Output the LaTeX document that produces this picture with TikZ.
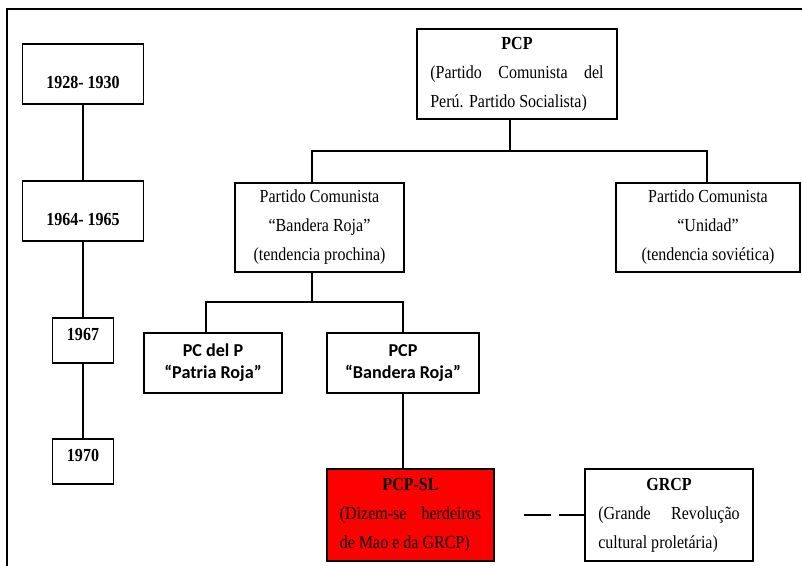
\documentclass[tikz,border=0pt]{standalone}
\usepackage{fontspec}
\setmainfont{Liberation Serif}[FakeStretch=0.87]
\newfontfamily\calibrifont{Carlito}

\newcommand*{\jline}[2]{\makebox[#1][s]{#2}}
\newcommand*{\lline}[2]{\makebox[#1][l]{#2}}

\begin{document}
\begin{tikzpicture}
[
	x=0.75pt,y=-0.75pt,
	every node/.style={inner sep=0pt,font=\fontsize{13.8}{21.75}\selectfont},
	box/.style={draw,line width=1pt,align=center},
	yearbig/.style={box,font=\fontsize{13.8}{14}\selectfont\bfseries,minimum width=90.75pt,minimum height=45pt,text height=21.4pt,text depth=0pt},
	yearsmall/.style={box,font=\fontsize{13.8}{14}\selectfont\bfseries,minimum width=45.75pt,minimum height=33.75pt,text height=9.4pt,text depth=9pt},
	party/.style={box,minimum height=66.75pt},
	sansbox/.style={box,font=\calibrifont\bfseries\fontsize{13.6}{16.5}\selectfont,minimum height=45pt},
	link/.style={line width=1pt}
]

	\useasboundingbox (0,0) rectangle (802,566);

	% frame
	\draw[line width=1.3pt] (802,9) -- (7,9) -- (7,566);

	% timeline
	\node[yearbig] (y1928) at (83,74) {1928- 1930};
	\node[yearbig] (y1964) at (83,211) {1964- 1965};
	\node[yearsmall] (y1967) at (83,340.5) {1967};
	\node[yearsmall] (y1970) at (83,461.5) {1970};
	\draw[link] (y1928) -- (y1964) -- (y1967) -- (y1970);

	% parties
	\node[party,minimum width=150pt,minimum height=67.5pt] (pcp) at (517,74)
		{\textbf{PCP}\\ \jline{130pt}{(Partido Comunista del}\\ \lline{130pt}{Perú. Partido Socialista)}};
	\node[party,minimum width=126.75pt] (pcbr) at (319.5,227.5)
		{Partido Comunista\\ “Bandera Roja”\\ (tendencia prochina)};
	\node[party,minimum width=138pt] (pcu) at (708,227.5)
		{Partido Comunista\\ “Unidad”\\ (tendencia soviética)};
	\node[sansbox,minimum width=103.5pt] (pcdelp) at (213,363) {PC del P\\ “Patria Roja”};
	\node[sansbox,minimum width=114pt] (pcpbr) at (403,363) {PCP\\ “Bandera Roja”};
	\node[party,fill=red,minimum width=125.25pt,minimum height=69pt] (pcpsl) at (410.5,515)
		{\textbf{PCP-SL}\\ \jline{106pt}{(Dizem-se herdeiros}\\ \lline{106pt}{de Mao e da GRCP)}};
	\node[party,minimum width=126pt,minimum height=69pt] (grcp) at (669,515)
		{\textbf{GRCP}\\ \jline{106pt}{(Grande Revolução}\\ \lline{106pt}{cultural proletária)}};

	% first split
	\coordinate (forkA) at (510,151);
	\coordinate (forkAleft) at (312,151);
	\coordinate (forkAright) at (707,151);
	\draw[link] (pcp.south -| forkA) -- (forkA);
	\draw[link] (pcbr.north -| forkAleft) -- (forkAleft) -- (forkAright) -- (pcu.north -| forkAright);

	% second split
	\coordinate (forkB) at (312,302);
	\coordinate (forkBleft) at (206,302);
	\coordinate (forkBright) at (403,302);
	\draw[link] (pcbr.south -| forkB) -- (forkB);
	\draw[link] (pcdelp.north -| forkBleft) -- (forkBleft) -- (forkBright) -- (pcpbr.north -| forkBright);
	\draw[link] (pcpbr.south -| forkBright) -- (pcpsl.north -| forkBright);

	% GRCP
	\coordinate (dashstart) at (524,515);
	\draw[link,dash pattern=on 20pt off 6pt] (dashstart) -- (grcp.west);

\end{tikzpicture}
\end{document}
